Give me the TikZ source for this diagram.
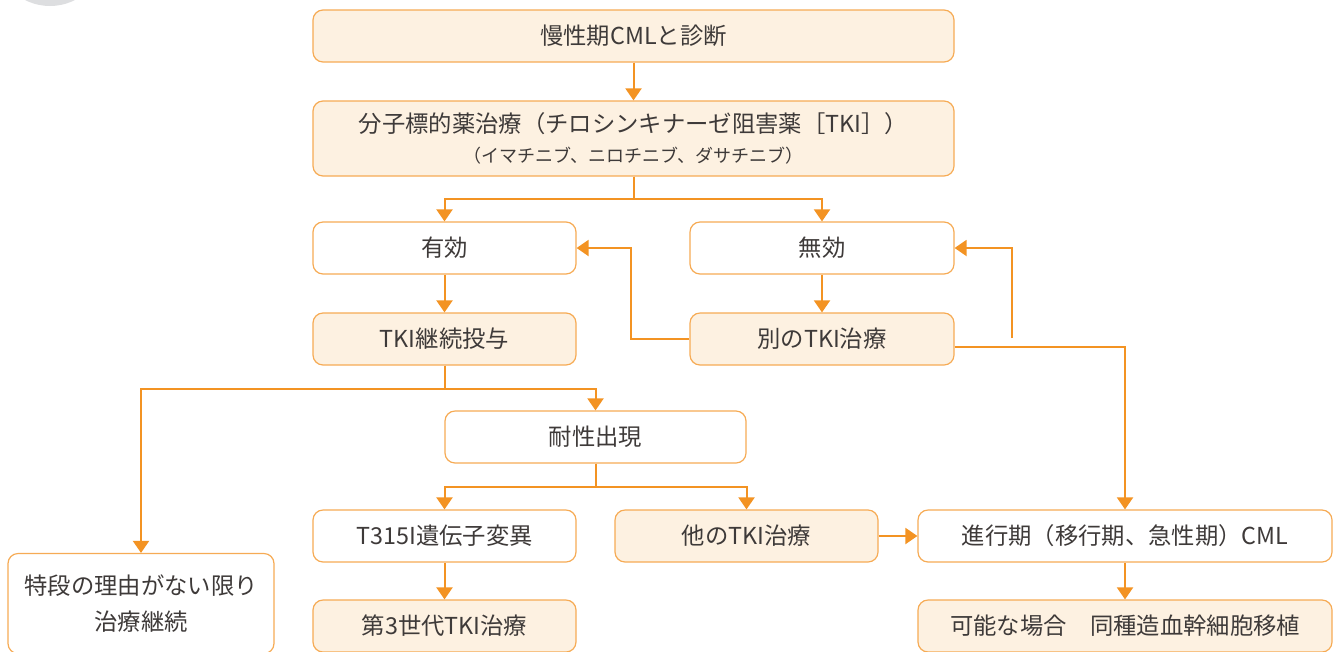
\documentclass[tikz,border=0pt]{standalone}
\usepackage{fontspec}
\setmainfont{Noto Sans CJK JP}
\usetikzlibrary{arrows.meta}
\definecolor{lineor}{HTML}{F39323}
\definecolor{boxor}{HTML}{F6AB55}
\definecolor{cream}{HTML}{FDF1E1}
\definecolor{txt}{HTML}{3E3A39}
\definecolor{circ}{HTML}{DDDEE0}
\tikzset{
  base/.style={draw=boxor, line width=0.9pt, rounded corners=7.5pt, text=txt, font=\fontsize{17.5}{21}\selectfont, align=center, inner sep=0pt},
  wbox/.style={base, fill=white},
  cbox/.style={base, fill=cream},
  conn/.style={draw=lineor, line width=1.5pt},
  arr/.style={conn, -{Triangle[width=12pt,length=9pt]}},
}
\begin{document}
\begin{tikzpicture}[x=0.75pt,y=-0.75pt]
\useasboundingbox (0,0) rectangle (1334,651);
\clip (0,0) rectangle (1334,651);
\fill[circ] (50,-49) circle[radius=41.25pt];
\node[cbox, minimum width=480.75pt, minimum height=39pt] (b1) at (633.5,36) {慢性期CMLと診断};
\node[cbox, minimum width=480.75pt, minimum height=56.25pt] (b2) at (633.5,138.5) {分子標的薬治療（チロシンキナーゼ阻害薬［TKI］）\\[2pt]{\fontsize{13.5}{16}\selectfont （イマチニブ、ニロチニブ、ダサチニブ）}};
\node[wbox, minimum width=197.25pt, minimum height=39pt] (eff) at (444.5,248) {有効};
\node[wbox, minimum width=198pt, minimum height=39pt] (ineff) at (822,248) {無効};
\node[cbox, minimum width=197.25pt, minimum height=39pt] (cont) at (444.5,339) {TKI継続投与};
\node[cbox, minimum width=198pt, minimum height=39pt] (other) at (822,339) {別のTKI治療};
\node[wbox, minimum width=225.75pt, minimum height=39pt] (res) at (595.5,437) {耐性出現};
\node[wbox, minimum width=197.25pt, minimum height=39pt] (t315) at (444.5,536) {T315I遺伝子変異};
\node[cbox, minimum width=197.25pt, minimum height=39pt] (oth2) at (746.5,536) {他のTKI治療};
\node[wbox, minimum width=310.5pt, minimum height=39pt] (adv) at (1125,536) {進行期（移行期、急性期）CML};
\node[cbox, minimum width=310.5pt, minimum height=39pt] (sct) at (1125,626) {可能な場合　同種造血幹細胞移植};
\node[cbox, minimum width=197.25pt, minimum height=39pt] (gen3) at (444.5,626) {第3世代TKI治療};
\node[wbox, minimum width=199.5pt, minimum height=75pt] (keep) at (141,603.5) {特段の理由がない限り\\[6pt]治療継続};
\coordinate (rl) at (1012,338);
\draw[arr] (b1) -- (b2);
\draw[arr] (b2.south) -- ++(0,22) -| (eff.north);
\draw[arr] (b2.south) -- ++(0,22) -| (ineff.north);
\draw[arr] (eff) -- (cont);
\draw[arr] (ineff) -- (other);
\draw[arr] (other.west) -- ++(-58,0) |- (eff.east);
\draw[arr] (rl) |- (ineff.east);
\draw[arr] ([yshift=-6pt]other.east) -| (adv.north);
\draw[arr] (cont.south) -- ++(0,23) -| (res.north);
\draw[arr] (cont.south) -- ++(0,23) -| (keep.north);
\draw[arr] (res.south) -- ++(0,23) -| (t315.north);
\draw[arr] (res.south) -- ++(0,23) -| (oth2.north);
\draw[arr] (t315) -- (gen3);
\draw[arr] (oth2) -- (adv);
\draw[arr] (adv) -- (sct);
\end{tikzpicture}
\end{document}
